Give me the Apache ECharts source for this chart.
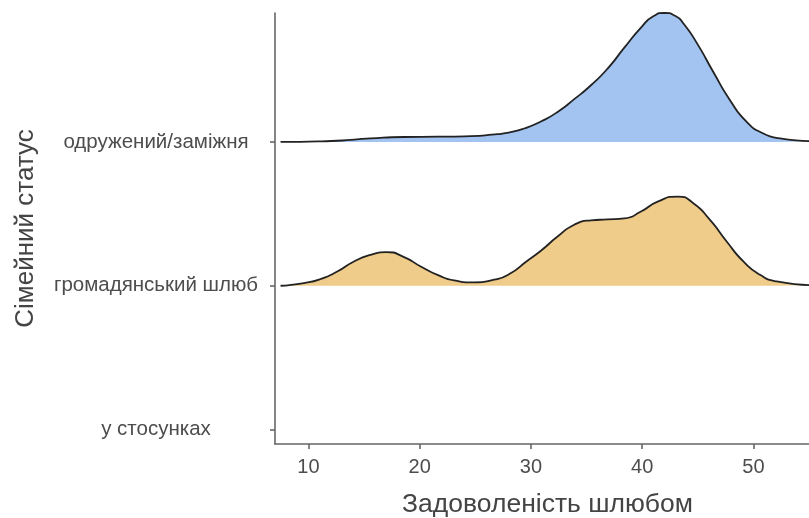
<!DOCTYPE html>
<html>
<head>
<meta charset="utf-8">
<script src="https://cdn.jsdelivr.net/npm/echarts@6/dist/echarts.min.js"></script>
<style>
  html, body { margin: 0; padding: 0; background: #fff; }
  #chart { width: 809px; height: 518px; }
</style>
</head>
<body>
<div id="chart"></div>
<script>
// Ridge categories (bottom to top); category i sits at y = i + 1
const categories = ['у стосунках', 'громадянський шлюб', 'одружений/заміжня'];
const xTicks = [10, 20, 30, 40, 50];

// Density ridge: одружений/заміжня (baseline 3)
const marriedX = [7.5, 10, 12.6, 15.6, 18.6, 21.6, 24.6, 26.5, 28, 29.4, 30.9, 32.4, 33.9, 35.4, 36.9, 38.4, 39.9, 41, 42, 43, 43.75, 44.95, 46.4, 47.9, 49.4, 50.9, 52.4, 55];
const marriedH = [0, 0.002, 0.008, 0.024, 0.034, 0.036, 0.04, 0.05, 0.065, 0.093, 0.142, 0.208, 0.297, 0.394, 0.51, 0.655, 0.795, 0.873, 0.896, 0.875, 0.82, 0.683, 0.486, 0.29, 0.139, 0.058, 0.024, 0.005];

// Density ridge: громадянський шлюб (baseline 2)
const civilX = [7.5, 9.6, 11.1, 12.6, 14.1, 15.6, 17.0, 18.6, 20.1, 21.6, 23.1, 24.9, 26.7, 28.1, 29.6, 30.9, 32.4, 33.9, 35.4, 36.9, 38.4, 39.9, 41.4, 43.2, 44.6, 46.1, 47.6, 49.1, 50.6, 52.1, 55];
const civilH = [0, 0.019, 0.047, 0.099, 0.169, 0.215, 0.234, 0.199, 0.134, 0.076, 0.037, 0.023, 0.042, 0.083, 0.169, 0.243, 0.342, 0.424, 0.455, 0.461, 0.468, 0.516, 0.585, 0.62, 0.574, 0.458, 0.308, 0.169, 0.076, 0.03, 0.005];

function ridge(xs, hs, base) {
  return xs.map((x, i) => [x, base + hs[i]]);
}

const axisGrey = '#666666';
const labelGrey = '#4d4d4d';
const font = 'Liberation Sans';

const chart = echarts.init(document.getElementById('chart'), null, { renderer: 'canvas' });
chart.setOption({
  animation: false,
  backgroundColor: '#ffffff',
  grid: { left: 275, right: 0, top: 13, bottom: 74, outerBoundsMode: 'none', containLabel: false },
  xAxis: {
    type: 'value',
    min: 7,
    max: 55,
    name: 'Задоволеність шлюбом',
    nameLocation: 'middle',
    nameGap: 47,
    nameTextStyle: { fontFamily: font, fontSize: 26.5, color: '#444444', padding: [0, 0, 0, 11] },
    axisLine: { show: true, onZero: false, lineStyle: { color: axisGrey, width: 1.6 } },
    axisTick: { show: true, length: 5, customValues: xTicks, lineStyle: { color: axisGrey, width: 1.6 } },
    axisLabel: { customValues: xTicks, margin: 13, fontFamily: font, fontSize: 20, color: labelGrey },
    splitLine: { show: false }
  },
  yAxis: {
    type: 'value',
    min: 0.9,
    max: 3.896,
    name: 'Сімейний статус',
    nameLocation: 'middle',
    nameGap: 236,
    nameTextStyle: { fontFamily: font, fontSize: 26, color: '#444444' },
    axisLine: { show: true, onZero: false, lineStyle: { color: axisGrey, width: 1.6 } },
    axisTick: { show: true, length: 5, customValues: [1, 2, 3], lineStyle: { color: axisGrey, width: 1.6 } },
    axisLabel: {
      customValues: [1, 2, 3],
      formatter: v => categories[Math.round(v) - 1],
      align: 'center',
      margin: 119,
      fontFamily: font,
      fontSize: 20.5,
      color: labelGrey
    },
    splitLine: { show: false }
  },
  series: [
    {
      type: 'line',
      data: ridge(marriedX, marriedH, 3),
      smooth: 0.6,
      symbol: 'none',
      lineStyle: { color: '#222222', width: 1.8 },
      areaStyle: { color: '#a3c4f0', opacity: 1, origin: 3 },
      z: 2
    },
    {
      type: 'line',
      data: ridge(civilX, civilH, 2),
      smooth: 0.6,
      symbol: 'none',
      lineStyle: { color: '#222222', width: 1.8 },
      areaStyle: { color: '#f0cc8a', opacity: 1, origin: 2 },
      z: 3
    }
  ]
});
</script>
</body>
</html>
